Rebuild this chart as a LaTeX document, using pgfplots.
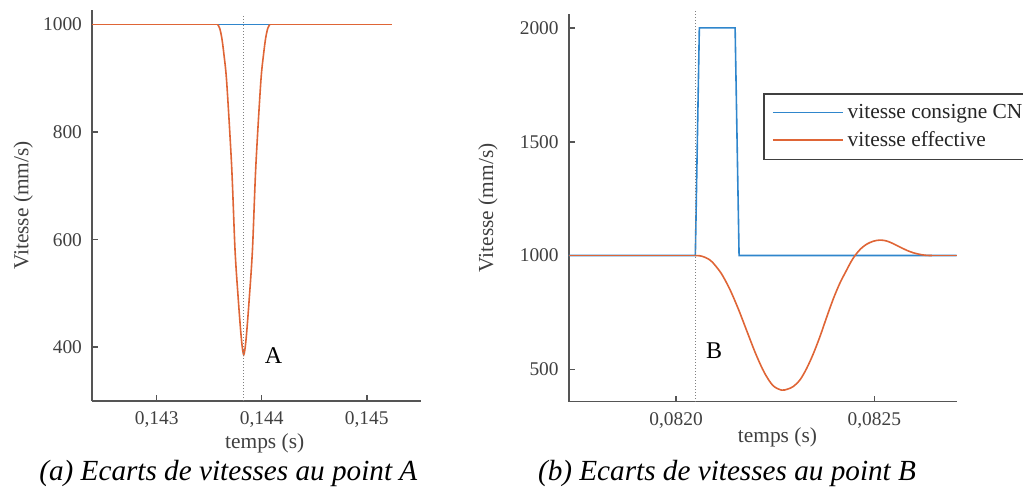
\documentclass[border=0pt]{standalone}
\usepackage{fontspec}
\setmainfont{Liberation Serif}
\usepackage{pgfplots}
\pgfplotsset{compat=1.18}
\definecolor{mblue}{HTML}{2F86CC}
\definecolor{morange}{HTML}{DF6536}
\definecolor{axgray}{HTML}{555555}
\definecolor{txtgray}{HTML}{404040}
\pgfplotsset{common/.style={
  scale only axis,
  scaled x ticks=false, scaled y ticks=false,
  axis x line*=bottom, axis y line*=left,
  axis line style={axgray, line width=0.8pt},
  tick style={axgray, line width=0.8pt},
  tick align=inside,
  major tick length=3pt,
  ticklabel style={font=\fontsize{9.7}{11}\selectfont, text=txtgray},
  label style={font=\fontsize{10.7}{12}\selectfont, text=txtgray},
  clip=false,
  xticklabel style={yshift=-2pt},
  yticklabel style={xshift=-1.5pt},
}}
\begin{document}
\begin{tikzpicture}
% ---------------- left panel ----------------
\begin{axis}[common, at={(46pt,46pt)}, anchor=south west,
  width=164.5pt, height=195.5pt,
  xmin=0.142384, xmax=0.145517, ymin=300, ymax=1027,
  xtick={0.143,0.144,0.145}, xticklabels={{0,143},{0,144},{0,145}},
  ytick={400,600,800,1000}, yticklabels={400,600,800,1000},
  xlabel={temps (s)}, ylabel={Vitesse (mm/s)},
  xlabel style={at={(axis description cs:0.525,0)}, anchor=center, yshift=-21pt},
  ylabel style={at={(axis description cs:-0.2088,0.5)}, anchor=center},
]
\addplot[mblue, line width=0.8pt] coordinates {(0.142384,1000) (0.145241,1000)};
\addplot[morange, line width=0.8pt] coordinates {(0.142384,1000) (0.143581,1000)};
\addplot[morange, line width=0.8pt] coordinates {(0.144077,1000) (0.145241,1000)};
\addplot[morange, line width=0.8pt, smooth] coordinates {
(0.143581,1000) (0.143600,993) (0.143620,975) (0.143640,945) (0.143667,892)
(0.143714,736) (0.143746,581) (0.143777,489) (0.143800,430) (0.143815,400)
(0.143829,386)
(0.143843,400) (0.143858,430) (0.143881,489) (0.143912,581) (0.143944,736)
(0.143991,892) (0.144018,945) (0.144038,975) (0.144058,993) (0.144077,1000)};
\addplot[gray, densely dotted, line width=0.5pt] coordinates {(0.143829,300) (0.143829,1016)};
\node[font=\fontsize{12}{14}\selectfont] at (axis cs:0.1441124,383.6) {A};
\end{axis}
% ---------------- right panel ----------------
\begin{axis}[common, at={(284.35pt,45.65pt)}, anchor=south west,
  width=194pt, height=193.85pt,
  xmin=0.0817294, xmax=0.0827077, ymin=358, ymax=2061,
  xtick={0.082,0.0825}, xticklabels={{0,0820},{0,0825}},
  ytick={500,1000,1500,2000}, yticklabels={500,1000,1500,2000},
  xlabel={temps (s)}, ylabel={Vitesse (mm/s)},
  xlabel style={at={(axis description cs:0.538,0)}, anchor=center, yshift=-17.6pt},
  ylabel style={at={(axis description cs:-0.208,0.5)}, anchor=center},
  legend style={at={(axis description cs:0.5015,0.7955)}, anchor=north west,
    draw=black!75, line width=0.8pt, fill=white,
    font=\fontsize{10.7}{12}\selectfont, text=black!85,
    inner xsep=4pt, inner ysep=3pt, row sep=1pt, cells={anchor=west}},
  legend image code/.code={\draw[#1] (0pt,0pt) -- (35pt,0pt);},
]
\addplot[mblue, line width=0.8pt] coordinates {
(0.0817294,1000) (0.0820487,1000) (0.0820588,2000) (0.0821490,2000)
(0.0821590,1000) (0.0827077,1000)};
\addlegendentry{vitesse consigne CNC}
\addplot[morange, line width=0.8pt, smooth] coordinates {
(0.0820487,1000) (0.0820596,999) (0.0820704,994) (0.0820813,985)
(0.0820922,970) (0.0821139,922) (0.0821356,852) (0.0821574,764)
(0.0821791,666) (0.0822008,569) (0.0822226,486) (0.0822443,429)
(0.0822660,409) (0.0822810,413) (0.0822958,425) (0.0823130,455)
(0.0823296,505) (0.0823465,570) (0.0823631,645) (0.0823800,730)
(0.0823966,810) (0.0824135,880) (0.0824304,937) (0.0824410,972)
(0.0824513,1000) (0.0824660,1030) (0.0824808,1050) (0.0824976,1063)
(0.0825144,1068) (0.0825310,1064) (0.0825479,1052) (0.0825650,1037)
(0.0825817,1023) (0.0825985,1012) (0.0826152,1005) (0.0826300,1001)
(0.0826450,1000)};
\addlegendentry{vitesse effective}
\addplot[forget plot, morange, line width=0.8pt] coordinates {(0.0817294,1000) (0.0820487,1000)};
\addplot[forget plot, morange, line width=0.8pt] coordinates {(0.0826450,1000) (0.0827077,1000)};
\addplot[forget plot, gray, densely dotted, line width=0.5pt] coordinates {(0.0820487,358) (0.0820487,2083)};
\node[font=\fontsize{12}{14}\selectfont] at (axis cs:0.0820958,582) {B};
\end{axis}
\node[font=\itshape\fontsize{14.6}{16}\selectfont, anchor=base] at (114.15pt,6.5pt) {(a) Ecarts de vitesses au point A};
\node[font=\itshape\fontsize{14.6}{16}\selectfont, anchor=base] at (363.5pt,6.5pt) {(b) Ecarts de vitesses au point B};
\pgfresetboundingbox
\path[use as bounding box] (0,0) rectangle (511.5pt,246.5pt);
\end{tikzpicture}
\end{document}
